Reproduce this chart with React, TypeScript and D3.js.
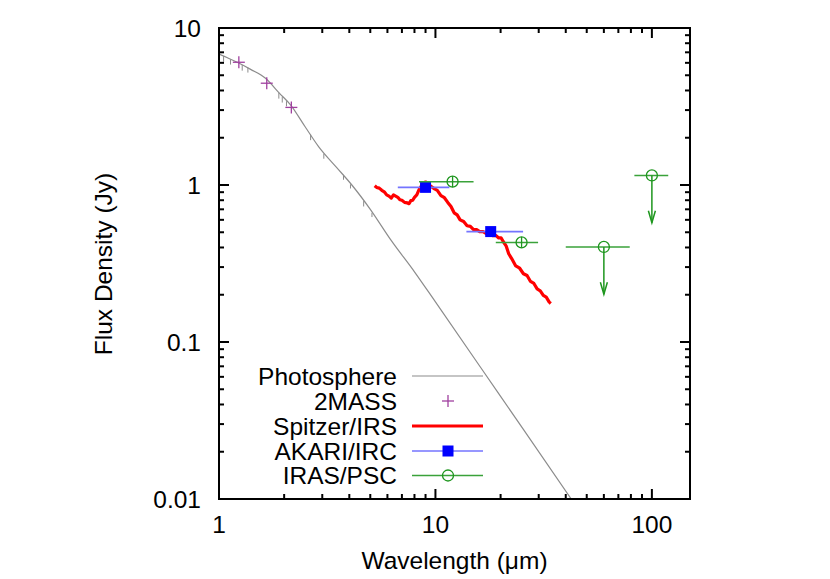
import React from "react";
import * as d3 from "d3";

// photosphere model (wavelength in um, flux in Jy)
const photoWave = [1.0, 1.1, 1.214, 1.4, 1.64, 1.9, 2.14, 2.5, 2.89, 3.5, 4.11, 5.0, 6.22, 8.0, 10, 20, 42.4, 55];
const photoFlux = [6.82, 6.44, 6.05, 5.45, 4.78, 3.85, 3.24, 2.35, 1.75, 1.29, 1.0, 0.7, 0.447, 0.28, 0.18, 0.045, 0.01, 0.0059];

// small absorption features on the model
const spikeWave = [1.05, 1.13, 1.28, 1.36, 1.89, 1.96, 2.05, 2.65, 3.05, 3.76, 4.05, 4.66, 5.09];
const spikeTop = [6.63, 6.3, 5.82, 5.6, 3.87, 3.64, 3.42, 2.1, 1.58, 1.16, 1.01, 0.79, 0.665];
const spikeBottom = [6.1, 5.85, 5.35, 5.2, 3.55, 3.35, 3.17, 1.93, 1.47, 1.08, 0.95, 0.73, 0.625];

const tmassWave = [1.235, 1.662, 2.159];
const tmassFlux = [6.05, 4.45, 3.12];

const irsWave = [
  5.24, 5.35, 5.5, 5.65, 5.8, 5.95, 6.1, 6.25, 6.4, 6.55, 6.7, 6.85, 7.0, 7.2, 7.4, 7.55,
  7.7, 7.85, 8.0, 8.2, 8.4, 8.6, 8.8, 9.0, 9.2, 9.4, 9.6, 9.9, 10.2, 10.6, 11.0, 11.4,
  11.8, 12.2, 12.6, 13.0, 13.5, 14.0, 14.5, 15.0, 15.5, 16.0, 16.6, 17.2, 17.8, 18.4, 19.0,
  19.6, 20.1, 20.6, 21.2, 21.8, 22.5, 23.5, 24.5, 25.5, 26.5, 27.5, 28.5, 29.5, 30.5, 31.5,
  32.5, 33.5, 34.1,
];
const irsFlux = [
  0.99, 0.965, 0.955, 0.925, 0.905, 0.865, 0.85, 0.825, 0.865, 0.85, 0.835, 0.805, 0.8, 0.775, 0.77, 0.76,
  0.795, 0.8, 0.835, 0.865, 0.935, 0.985, 1.035, 1.045, 1.03, 0.995, 0.975, 0.945, 0.925, 0.855, 0.83, 0.775,
  0.73, 0.665, 0.645, 0.6, 0.585, 0.55, 0.545, 0.52, 0.52, 0.505, 0.505, 0.49, 0.495, 0.475, 0.478,
  0.46, 0.46, 0.435, 0.41, 0.365, 0.34, 0.305, 0.295, 0.272, 0.265, 0.243, 0.236, 0.218, 0.212, 0.198,
  0.193, 0.18, 0.176,
];

const akariWave = [9, 18];
const akariFlux = [0.966, 0.505];
const akariLo = [6.7, 13.9];
const akariHi = [11.6, 25.4];

const irasWave = [12, 25, 60, 100];
const irasFlux = [1.05, 0.431, 0.403, 1.15];
const irasLo = [8.4, 19.0, 40, 83];
const irasHi = [15.0, 29.8, 79, 119];
const irasUpper = [false, false, true, true];

const xMajor = [1, 10, 100];
const xMinor = [2, 3, 4, 5, 6, 7, 8, 9, 20, 30, 40, 50, 60, 70, 80, 90];
const yMajor = [0.01, 0.1, 1, 10];
const yMinor = [0.02, 0.03, 0.04, 0.05, 0.06, 0.07, 0.08, 0.09, 0.2, 0.3, 0.4, 0.5, 0.6, 0.7, 0.8, 0.9, 2, 3, 4, 5, 6, 7, 8, 9];

const legendLabels = ["Photosphere", "2MASS", "Spitzer/IRS", "AKARI/IRC", "IRAS/PSC"];

const W = 830;
const H = 579;
const left = 219, right = 690, top = 28, bottom = 499;
const FONT = "'Liberation Sans', Arial, Helvetica, sans-serif";
const FS = 24.5;

const x = d3.scaleLog().domain([1, 150]).range([left, right]);
const y = d3.scaleLog().domain([0.01, 10]).range([bottom, top]);

const line = d3
  .line<[number, number]>()
  .x((d) => x(d[0]))
  .y((d) => y(d[1]));

const App = () => {
  const photo = photoWave.map((w, i) => [w, photoFlux[i]] as [number, number]);
  const irs = irsWave.map((w, i) => [w, irsFlux[i]] as [number, number]);
  const smooth = d3
    .line<[number, number]>()
    .x((d) => x(d[0]))
    .y((d) => y(d[1]))
    .curve(d3.curveMonotoneX);

  const green = "#1e961e";
  const greenBar = "#3aa23a";
  const purple = "#a0409f";
  const legY = [376, 401, 426, 451, 475.5];
  const legX1 = 412, legX2 = 483, legXm = 448;

  return (
    <div style={{ position: "absolute", left: 0, top: 0 }}>
      <svg width={W} height={H} style={{ display: "block", background: "#fff" }} fontFamily={FONT}>
        <defs>
          <clipPath id="plotClip">
            <rect x={left} y={top} width={right - left} height={bottom - top} />
          </clipPath>
        </defs>

        {/* photosphere */}
        <g clipPath="url(#plotClip)">
          <path d={smooth(photo) || ""} fill="none" stroke="#8c8c8c" strokeWidth={1.2} />
          {spikeWave.map((w, i) => (
            <line key={i} x1={x(w)} x2={x(w)} y1={y(spikeTop[i])} y2={y(spikeBottom[i])} stroke="#8c8c8c" strokeWidth={1} />
          ))}
        </g>

        {/* 2MASS */}
        {tmassWave.map((w, i) => (
          <g key={i} stroke={purple} strokeWidth={1.3}>
            <line x1={x(w) - 6} x2={x(w) + 6} y1={y(tmassFlux[i])} y2={y(tmassFlux[i])} />
            <line x1={x(w)} x2={x(w)} y1={y(tmassFlux[i]) - 6} y2={y(tmassFlux[i]) + 6} />
          </g>
        ))}

        {/* Spitzer/IRS */}
        <path d={line(irs) || ""} fill="none" stroke="#ff0000" strokeWidth={3.2} strokeLinejoin="round" />

        {/* AKARI/IRC */}
        {akariWave.map((w, i) => (
          <g key={i}>
            <line x1={x(akariLo[i])} x2={x(akariHi[i])} y1={y(akariFlux[i])} y2={y(akariFlux[i])} stroke="#7474ff" strokeWidth={1.6} />
            <rect x={x(w) - 5.5} y={y(akariFlux[i]) - 5.5} width={11} height={11} fill="#0000ff" />
          </g>
        ))}

        {/* IRAS/PSC */}
        {irasWave.map((w, i) => {
          const cx = x(w);
          const cy = y(irasFlux[i]);
          const r = 5.5;
          const yEnd = y(irasFlux[i] / 2);
          return (
            <g key={i} fill="none">
              <line x1={x(irasLo[i])} x2={x(irasHi[i])} y1={cy} y2={cy} stroke={greenBar} strokeWidth={1.5} />
              <circle cx={cx} cy={cy} r={r} stroke={green} strokeWidth={1.3} />
              {irasUpper[i] ? (
                <g stroke={green} strokeWidth={1.5}>
                  <line x1={cx} x2={cx} y1={cy} y2={yEnd} />
                  <path d={`M${cx - 3.5},${yEnd - 12}L${cx},${yEnd}L${cx + 3.5},${yEnd - 12}`} />
                </g>
              ) : (
                <line x1={cx} x2={cx} y1={cy - r} y2={cy + r} stroke={green} strokeWidth={1.3} />
              )}
            </g>
          );
        })}

        {/* frame and ticks */}
        <g stroke="#000" strokeWidth={2} fill="none">
          <rect x={left} y={top} width={right - left} height={bottom - top} />
          {xMajor.map((v) => (
            <g key={"xM" + v}>
              <line x1={x(v)} x2={x(v)} y1={bottom} y2={bottom - 10} />
              <line x1={x(v)} x2={x(v)} y1={top} y2={top + 10} />
            </g>
          ))}
          {xMinor.map((v) => (
            <g key={"xm" + v}>
              <line x1={x(v)} x2={x(v)} y1={bottom} y2={bottom - 5} />
              <line x1={x(v)} x2={x(v)} y1={top} y2={top + 5} />
            </g>
          ))}
          {yMajor.map((v) => (
            <g key={"yM" + v}>
              <line x1={left} x2={left + 10} y1={y(v)} y2={y(v)} />
              <line x1={right} x2={right - 10} y1={y(v)} y2={y(v)} />
            </g>
          ))}
          {yMinor.map((v) => (
            <g key={"ym" + v}>
              <line x1={left} x2={left + 5} y1={y(v)} y2={y(v)} />
              <line x1={right} x2={right - 5} y1={y(v)} y2={y(v)} />
            </g>
          ))}
        </g>

        {/* tick labels */}
        <g fontSize={FS} fill="#000">
          {xMajor.map((v) => (
            <text key={"xl" + v} x={x(v)} y={bottom + 34} textAnchor="middle">
              {d3.format("~g")(v)}
            </text>
          ))}
          {yMajor.map((v) => (
            <text key={"yl" + v} x={left - 18} y={y(v) + 8.5} textAnchor="end">
              {d3.format("~g")(v)}
            </text>
          ))}
        </g>

        {/* axis titles */}
        <text x={(left + right) / 2} y={569} textAnchor="middle" fontSize={FS}>
          Wavelength (μm)
        </text>
        <text transform={`translate(112,264) rotate(-90)`} textAnchor="middle" fontSize={FS}>
          Flux Density (Jy)
        </text>

        {/* legend */}
        <g fontSize={FS}>
          {legendLabels.map((t, i) => (
            <text key={t} x={397} y={legY[i] + 8.5} textAnchor="end">
              {t}
            </text>
          ))}
          <line x1={legX1} x2={legX2} y1={legY[0]} y2={legY[0]} stroke="#8c8c8c" strokeWidth={1.2} />
          <g stroke={purple} strokeWidth={1.3}>
            <line x1={legXm - 6} x2={legXm + 6} y1={legY[1]} y2={legY[1]} />
            <line x1={legXm} x2={legXm} y1={legY[1] - 6} y2={legY[1] + 6} />
          </g>
          <line x1={legX1} x2={legX2} y1={legY[2]} y2={legY[2]} stroke="#ff0000" strokeWidth={3} />
          <line x1={legX1} x2={legX2} y1={legY[3]} y2={legY[3]} stroke="#7474ff" strokeWidth={1.6} />
          <rect x={legXm - 5.5} y={legY[3] - 5.5} width={11} height={11} fill="#0000ff" />
          <line x1={legX1} x2={legX2} y1={legY[4]} y2={legY[4]} stroke={greenBar} strokeWidth={1.5} />
          <circle cx={legXm} cy={legY[4]} r={5.5} fill="none" stroke={green} strokeWidth={1.3} />
        </g>
      </svg>
    </div>
  );
};

export default App;
